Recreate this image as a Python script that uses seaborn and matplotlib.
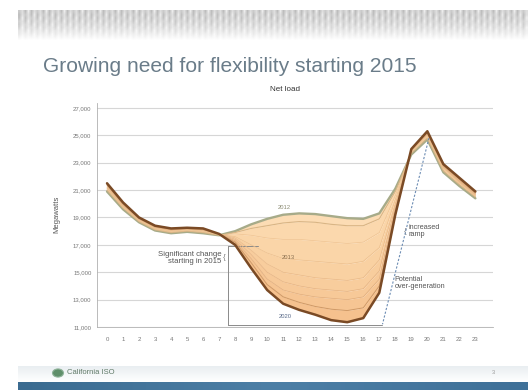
import numpy as np
import pandas as pd
import matplotlib
matplotlib.use("Agg")
import matplotlib.pyplot as plt
from matplotlib.patches import Circle
import seaborn as sns

# Net load by hour of day (MW), one series per year
hours = list(range(24))
load_2012 = [20900, 19600, 18650, 18050, 17850, 17950, 17850, 17700, 18000, 18500, 18900, 19200,
             19300, 19250, 19100, 18950, 18900, 19300, 21100, 23600, 24700, 22300, 21300, 20400]
load_2013 = [21000, 19700, 18700, 18100, 17900, 18000, 17900, 17700, 17900, 18200, 18400, 18600,
             18700, 18650, 18500, 18400, 18400, 18900, 20900, 23700, 24800, 22400, 21400, 20500]
load_2014 = [21100, 19750, 18750, 18150, 17950, 18050, 17950, 17750, 17800, 17700, 17500, 17400,
             17400, 17300, 17200, 17100, 17200, 17900, 20600, 23800, 24900, 22500, 21500, 20550]
load_2015 = [21150, 19800, 18800, 18200, 18000, 18100, 18000, 17750, 17600, 17000, 16400, 16000,
             15900, 15800, 15700, 15600, 15800, 16800, 20300, 23850, 25000, 22600, 21550, 20600]
load_2016 = [21200, 19850, 18850, 18250, 18050, 18150, 18050, 17800, 17500, 16600, 15600, 15000,
             14800, 14600, 14500, 14400, 14600, 15900, 20000, 23900, 25050, 22650, 21600, 20650]
load_2017 = [21300, 19900, 18900, 18300, 18100, 18150, 18100, 17800, 17400, 16300, 15000, 14300,
             14000, 13800, 13700, 13600, 13800, 15100, 19800, 23900, 25100, 22700, 21650, 20700]
load_2018 = [21350, 19950, 18900, 18300, 18100, 18200, 18100, 17800, 17300, 16000, 14500, 13700,
             13400, 13200, 13100, 13000, 13200, 14500, 19600, 23950, 25150, 22750, 21700, 20750]
load_2019 = [21400, 20000, 18950, 18350, 18150, 18200, 18150, 17800, 17200, 15700, 14100, 13200,
             12800, 12500, 12300, 12200, 12400, 14000, 19400, 24000, 25200, 22800, 21800, 20800]
load_2020 = [21500, 20100, 19000, 18400, 18200, 18250, 18200, 17800, 17000, 15300, 13700, 12700,
             12250, 11900, 11500, 11350, 11650, 13500, 19200, 24000, 25300, 22900, 21900, 20900]

years = [2012, 2013, 2014, 2015, 2016, 2017, 2018, 2019, 2020]
series = [load_2012, load_2013, load_2014, load_2015, load_2016,
          load_2017, load_2018, load_2019, load_2020]

y_ticks = [11000, 13000, 15000, 17000, 19000, 21000, 23000, 25000, 27000]

df = pd.DataFrame({
    "hour": hours * len(years),
    "mw": [v for s in series for v in s],
    "year": [y for y in years for _ in hours],
})

sns.set_theme(style="white")
plt.rcParams["font.family"] = ["Liberation Sans", "DejaVu Sans"]

W, H = 528, 390
fig = plt.figure(figsize=(W / 100, H / 100), dpi=100)
fig.patch.set_facecolor("white")

# --- slide decoration: stippled header band ---
band = fig.add_axes([18 / W, 1 - 42 / H, (W - 18) / W, 32 / H])
cols, rows = 170, 10
pat = np.zeros((rows, cols))
for r in range(rows):
    for c in range(cols):
        base = 0.74 if (c % 2 == 0) else 0.87
        if (r + c) % 3 == 0:
            base += 0.05
        fade = r / (rows - 1)
        pat[r, c] = base + (1 - base) * fade ** 1.6
band.imshow(pat, cmap="gray", vmin=0, vmax=1, aspect="auto", interpolation="bilinear")
band.axis("off")

fig.text(43 / W, 1 - 66 / H, "Growing need for flexibility starting 2015",
         fontsize=15.1, color="#6a7c89", ha="left", va="center")

# --- footer: swoosh, blue bar, logo ---
foot = fig.add_axes([18 / W, 0, (W - 18) / W, 8 / H])
grad = np.linspace(0, 1, 256).reshape(1, -1)
foot.imshow(grad, cmap=matplotlib.colors.LinearSegmentedColormap.from_list(
    "bar", ["#3b6b90", "#4d7fa6", "#3f7098"]), aspect="auto")
foot.axis("off")
swoosh = fig.add_axes([18 / W, 8 / H, (W - 18) / W, 16 / H])
sg = np.linspace(1, 0, 64).reshape(-1, 1) * np.ones((1, 64))
swoosh.imshow(sg, cmap=matplotlib.colors.LinearSegmentedColormap.from_list(
    "sw", ["#ffffff", "#e9eef1"]), aspect="auto", vmin=0, vmax=1)
swoosh.axis("off")
fig.patches.append(Circle((58 / W, 1 - 373 / H), 5.5 / W, transform=fig.transFigure,
                          facecolor="#5f8f6a", edgecolor="#8fb39a", lw=0.8))
fig.text(67 / W, 1 - 372 / H, "California ISO", fontsize=5.5, color="#607a68",
         ha="left", va="center")
fig.text(493 / W, 1 - 373 / H, "3", fontsize=4, color="#999999", ha="center", va="center")

# --- chart ---
ax = fig.add_axes([97 / W, 1 - 327 / H, (493 - 97) / W, (327 - 102.5) / H])
ax.set_xlim(-0.625, 24.1)
ax.set_ylim(11000, 27400)

fill_colors = ["#fcdcb4", "#fbd8ad", "#fad5a8", "#f9d1a2", "#f8cd9d",
               "#f7c998", "#f6c593", "#f5c18e"]
for i in range(len(series) - 1):
    ax.fill_between(hours, series[i], series[i + 1], color=fill_colors[i], lw=0, zorder=1)

palette = {2012: "#a7ab89", 2013: "#d9b585", 2014: "#efc493", 2015: "#ecbf8d",
           2016: "#e9b988", 2017: "#e5b383", 2018: "#e0ad7d", 2019: "#cf9966",
           2020: "#7a4a25"}
widths = {2012: 1.7, 2013: 0.8, 2014: 0.5, 2015: 0.5, 2016: 0.5, 2017: 0.5,
          2018: 0.5, 2019: 0.7, 2020: 1.8}
sns.lineplot(data=df, x="hour", y="mw", hue="year", size="year", palette=palette,
             sizes=widths, legend=False, ax=ax, zorder=3)

ax.set_yticks(y_ticks)
ax.set_yticklabels([f"{v:,}" for v in y_ticks])
ax.set_xticks(hours)
ax.set_xticklabels([str(h) for h in hours])
ax.grid(axis="y", color="#d6d6d6", lw=0.8, zorder=0)
ax.set_axisbelow(True)
for side in ["top", "right"]:
    ax.spines[side].set_visible(False)
for side in ["left", "bottom"]:
    ax.spines[side].set_color("#b0b0b0")
    ax.spines[side].set_linewidth(0.6)
ax.tick_params(axis="y", labelsize=4.3, colors="#777777", length=2, width=0.5, pad=2)
ax.tick_params(axis="x", labelsize=4.3, colors="#777777", length=0, pad=7)
ax.set_xlabel("")
ax.set_ylabel("Megawatts", fontsize=5.5, color="#555555", labelpad=9)
ax.set_title("Net load", fontsize=5.8, color="#333333", pad=8, x=0.475)

# year labels
ax.text(11.1, 19700, "2012", fontsize=4.2, color="#8c8c74", ha="center", va="center", zorder=4)
ax.text(11.3, 16100, "2013", fontsize=4.2, color="#8a7050", ha="center", va="center", zorder=4)
ax.text(11.1, 11750, "2020", fontsize=4.2, color="#5a6b8a", ha="center", va="center", zorder=4)

# bracket marking the mid-day drop
gray = "#8a8a8a"
ax.plot([7.56, 9.45], [16900, 16900], color=gray, lw=0.7, zorder=2)
ax.plot([7.56, 7.56], [16900, 11150], color=gray, lw=0.7, zorder=2)
ax.plot([7.56, 17.2], [11150, 11150], color=gray, lw=0.7, zorder=2)
ax.text(7.15, 16050, "Significant change\nstarting in 2015", fontsize=5.6, color="#555555",
        ha="right", va="center", linespacing=1.1, zorder=4)
ax.text(7.3, 16100, "{", fontsize=6, color=gray, ha="center", va="center")

# steeper evening ramp
ax.plot([20.1, 17.2], [24800, 11200], color="#6d8db4", lw=0.8, ls=(0, (2, 1.5)), zorder=4)
ax.text(18.65, 18000, "{", fontsize=6, color=gray, ha="center", va="center")
ax.text(18.85, 18000, "increased\nramp", fontsize=5.2, color="#555555",
        ha="left", va="center", linespacing=1.1, zorder=4)
ax.text(17.95, 14200, "Potential\nover-generation", fontsize=5.2, color="#555555",
        ha="left", va="center", linespacing=1.1, zorder=4)

fig.savefig("out.png", dpi=100)
